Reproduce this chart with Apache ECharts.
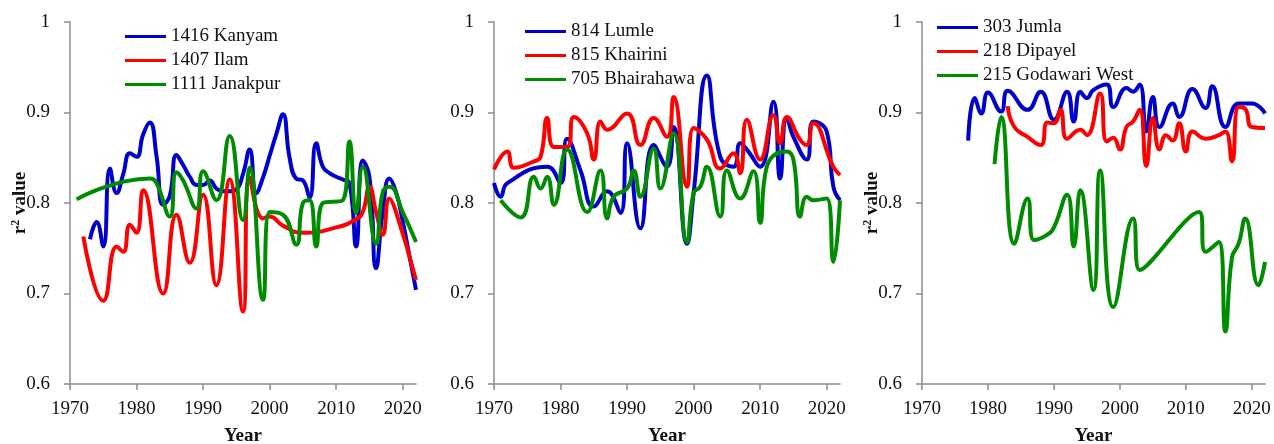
<!DOCTYPE html>
<html>
<head>
<meta charset="utf-8">
<script src="https://cdn.jsdelivr.net/npm/echarts@6/dist/echarts.min.js"></script>
<style>
  html, body { margin: 0; padding: 0; background: #fff; }
  #chart { width: 1274px; height: 444px; }
</style>
</head>
<body>
<div id="chart"></div>
<script>
// Axis ticks
const yearTicks = [1970, 1980, 1990, 2000, 2010, 2020];
const r2Ticks = [0.6, 0.7, 0.8, 0.9, 1];

// Station names (legend entries)
const panel1Names = ['1416 Kanyam', '1407 Ilam', '1111 Janakpur'];
const panel2Names = ['814 Lumle', '815 Khairini', '705 Bhairahawa'];
const panel3Names = ['303 Jumla', '218 Dipayel', '215 Godawari West'];

// 1416 Kanyam
const kanyamYears = [1973,1974,1975,1976,1977,1978,1979,1980,1981,1982,1983,1984,1985,1986,1987,1988,1989,1990,1991,1992,1993,1994,1995,1996,1997,1998,1999,2000,2001,2002,2003,2004,2005,2006,2007,2008,2009,2010,2011,2012,2013,2014,2015,2016,2017,2018,2019,2020,2021,2022];
const kanyamR2 = [0.760,0.779,0.752,0.838,0.811,0.832,0.855,0.851,0.876,0.889,0.852,0.798,0.808,0.853,0.842,0.829,0.820,0.820,0.825,0.816,0.813,0.813,0.815,0.832,0.859,0.811,0.828,0.852,0.876,0.898,0.850,0.827,0.825,0.806,0.866,0.840,0.833,0.829,0.826,0.822,0.752,0.847,0.829,0.728,0.790,0.827,0.812,0.780,0.742,0.704];

// 1407 Ilam
const ilamYears = [1972,1975,1977,1978,1979,1980,1981,1984,1986,1988,1990,1992,1994,1996,1997,1999,2000,2002,2005,2010,2013,2014,2015,2016,2017,2018,2019,2022];
const ilamR2 = [0.763,0.692,0.752,0.746,0.776,0.767,0.814,0.700,0.787,0.734,0.809,0.709,0.826,0.680,0.828,0.783,0.785,0.775,0.767,0.773,0.782,0.790,0.818,0.790,0.765,0.805,0.790,0.715];

// 1111 Janakpur
const janakpurYears = [1971,1982,1983,1985,1986,1987,1989,1990,1992,1994,1996,1997,1999,2000,2002,2004,2005,2006,2007,2008,2011,2012,2013,2014,2016,2017,2018,2020,2022];
const janakpurR2 = [0.804,0.827,0.822,0.785,0.834,0.825,0.794,0.835,0.803,0.874,0.781,0.839,0.693,0.790,0.787,0.754,0.800,0.803,0.752,0.800,0.803,0.868,0.789,0.840,0.755,0.812,0.818,0.790,0.757];

// 814 Lumle
const lumleYears = [1970,1971,1972,1978,1980,1981,1983,1985,1987,1989,1990,1992,1994,1996,1997,1999,2000,2002,2004,2006,2007,2008,2010,2012,2013,2014,2015,2017,2018,2020,2021,2022];
const lumleR2 = [0.822,0.807,0.822,0.840,0.822,0.871,0.836,0.796,0.813,0.789,0.866,0.772,0.864,0.840,0.884,0.755,0.811,0.941,0.851,0.840,0.866,0.859,0.840,0.912,0.827,0.894,0.873,0.848,0.890,0.879,0.818,0.803];

// 815 Khairini
const khairiniYears = [1970,1972,1973,1976,1977,1978,1979,1981,1982,1984,1985,1986,1987,1990,1992,1994,1996,1997,1999,2000,2002,2004,2006,2007,2008,2010,2012,2013,2014,2016,2017,2018,2021,2022];
const khairiniR2 = [0.837,0.857,0.839,0.846,0.851,0.894,0.862,0.862,0.895,0.877,0.848,0.890,0.881,0.899,0.864,0.894,0.873,0.917,0.818,0.883,0.870,0.838,0.855,0.833,0.892,0.848,0.897,0.866,0.895,0.870,0.864,0.888,0.840,0.831];

// 705 Bhairahawa
const bhairahawaYears = [1971,1974,1976,1977,1978,1979,1981,1984,1986,1987,1988,1990,1991,1992,1994,1995,1997,1999,2000,2001,2002,2004,2005,2007,2009,2010,2011,2014,2015,2016,2017,2018,2020,2021,2022];
const bhairahawaR2 = [0.803,0.784,0.829,0.816,0.829,0.798,0.859,0.790,0.836,0.783,0.807,0.816,0.836,0.807,0.860,0.816,0.877,0.757,0.811,0.818,0.840,0.785,0.836,0.805,0.835,0.778,0.840,0.857,0.848,0.785,0.807,0.803,0.805,0.735,0.803];

// 303 Jumla
const jumlaYears = [1977,1978,1979,1980,1982,1983,1986,1988,1990,1992,1993,1994,1995,1996,1998,1999,2001,2002,2003,2004,2005,2006,2008,2009,2011,2013,2014,2016,2018,2020,2022];
const jumlaR2 = [0.869,0.916,0.899,0.922,0.901,0.924,0.903,0.923,0.892,0.923,0.890,0.923,0.916,0.925,0.931,0.906,0.927,0.923,0.931,0.879,0.917,0.884,0.910,0.895,0.926,0.905,0.929,0.884,0.910,0.910,0.899];

// 218 Dipayel
const dipayelYears = [1983,1984,1986,1988,1989,1990,1991,1992,1994,1995,1997,1998,1999,2000,2001,2002,2003,2004,2005,2006,2007,2008,2009,2010,2011,2013,2015,2016,2017,2018,2019,2020,2022];
const dipayelR2 = [0.907,0.884,0.873,0.864,0.889,0.888,0.903,0.871,0.881,0.875,0.921,0.868,0.872,0.859,0.884,0.890,0.903,0.841,0.894,0.859,0.875,0.869,0.888,0.857,0.879,0.871,0.875,0.879,0.846,0.906,0.904,0.884,0.883];

// 215 Godawari West
const godawariYears = [1981,1982,1984,1986,1987,1989,1990,1992,1993,1994,1996,1997,1999,2002,2003,2012,2013,2015,2016,2017,2018,2019,2021,2022];
const godawariR2 = [0.843,0.895,0.755,0.805,0.759,0.765,0.773,0.809,0.752,0.814,0.704,0.836,0.685,0.783,0.726,0.790,0.746,0.757,0.658,0.740,0.755,0.783,0.709,0.735];

const BLUE = '#0000cc', RED = '#ff0000', GREEN = '#008c00';
const FONT = '"Liberation Serif", "Times New Roman", serif';
const AXIS_COLOR = '#8c8c8c';
const TEXT_COLOR = '#111111';

function pairs(xs, ys) { return xs.map((x, i) => [x, ys[i]]); }

// Three side-by-side plot areas; fixed placement, no automatic fitting
const grids = [
  { left: 70, top: 22, width: 346, height: 362, outerBoundsMode: 'none', containLabel: false },
  { left: 494, top: 22, width: 346, height: 362, outerBoundsMode: 'none', containLabel: false },
  { left: 922, top: 22, width: 343, height: 362, outerBoundsMode: 'none', containLabel: false }
];

function xAxisFor(i) {
  return {
    gridIndex: i, type: 'value', min: 1970, max: 2022, interval: 10,
    axisLine: { lineStyle: { color: AXIS_COLOR, width: 1.5 } },
    axisTick: { show: true, inside: false, length: 6, customValues: yearTicks, lineStyle: { color: AXIS_COLOR, width: 1.5 } },
    axisLabel: {
      customValues: yearTicks, fontFamily: FONT, fontSize: 19, color: TEXT_COLOR, margin: 16,
      formatter: v => String(v)
    },
    splitLine: { show: false },
    name: 'Year', nameLocation: 'middle', nameGap: 43, nameMoveOverlap: false,
    nameTextStyle: { fontFamily: FONT, fontSize: 19, fontWeight: 'bold', color: TEXT_COLOR }
  };
}

function yAxisFor(i, withName) {
  const ax = {
    gridIndex: i, type: 'value', min: 0.6, max: 1, interval: 0.1,
    axisLine: { show: true, lineStyle: { color: AXIS_COLOR, width: 1.5 } },
    axisTick: { show: true, inside: false, length: 6, lineStyle: { color: AXIS_COLOR, width: 1.5 } },
    axisLabel: {
      fontFamily: FONT, fontSize: 19, color: TEXT_COLOR, margin: 20,
      formatter: v => (Math.abs(v - 1) < 1e-9 ? '1' : v.toFixed(1))
    },
    splitLine: { show: false }
  };
  if (withName) {
    ax.name = '{b|r}{s|2}{b| value}';
    ax.nameLocation = 'middle';
    ax.nameGap = 40;
    ax.nameMoveOverlap = false;
    ax.nameTextStyle = {
      color: TEXT_COLOR,
      rich: {
        b: { fontFamily: FONT, fontSize: 19, fontWeight: 'bold', color: TEXT_COLOR, lineHeight: 20 },
        s: { fontFamily: FONT, fontSize: 12, fontWeight: 'bold', color: TEXT_COLOR, verticalAlign: 'top', lineHeight: 20 }
      }
    };
  }
  return ax;
}

function lineSeries(name, idx, xs, ys, color) {
  return {
    name, type: 'line', xAxisIndex: idx, yAxisIndex: idx,
    data: pairs(xs, ys), smooth: 0.5, symbol: 'none', showSymbol: false,
    lineStyle: { color, width: 4 }, itemStyle: { color },
    emphasis: { disabled: true }
  };
}

function legendFor(names, left, top) {
  return {
    data: names, orient: 'vertical', left, top,
    icon: 'rect', itemWidth: 41, itemHeight: 3, itemGap: 5,
    textStyle: { fontFamily: FONT, fontSize: 19, color: TEXT_COLOR },
    selectedMode: false
  };
}

const chart = echarts.init(document.getElementById('chart'), null, { renderer: 'canvas' });
chart.setOption({
  animation: false,
  backgroundColor: '#ffffff',
  grid: grids,
  xAxis: [xAxisFor(0), xAxisFor(1), xAxisFor(2)],
  yAxis: [yAxisFor(0, true), yAxisFor(1, false), yAxisFor(2, true)],
  legend: [
    legendFor(panel1Names, 120, 22),
    legendFor(panel2Names, 520, 17),
    legendFor(panel3Names, 932, 13)
  ],
  series: [
    lineSeries(panel1Names[0], 0, kanyamYears, kanyamR2, BLUE),
    lineSeries(panel1Names[1], 0, ilamYears, ilamR2, RED),
    lineSeries(panel1Names[2], 0, janakpurYears, janakpurR2, GREEN),
    lineSeries(panel2Names[0], 1, lumleYears, lumleR2, BLUE),
    lineSeries(panel2Names[1], 1, khairiniYears, khairiniR2, RED),
    lineSeries(panel2Names[2], 1, bhairahawaYears, bhairahawaR2, GREEN),
    lineSeries(panel3Names[0], 2, jumlaYears, jumlaR2, BLUE),
    lineSeries(panel3Names[1], 2, dipayelYears, dipayelR2, RED),
    lineSeries(panel3Names[2], 2, godawariYears, godawariR2, GREEN)
  ]
});
</script>
</body>
</html>
